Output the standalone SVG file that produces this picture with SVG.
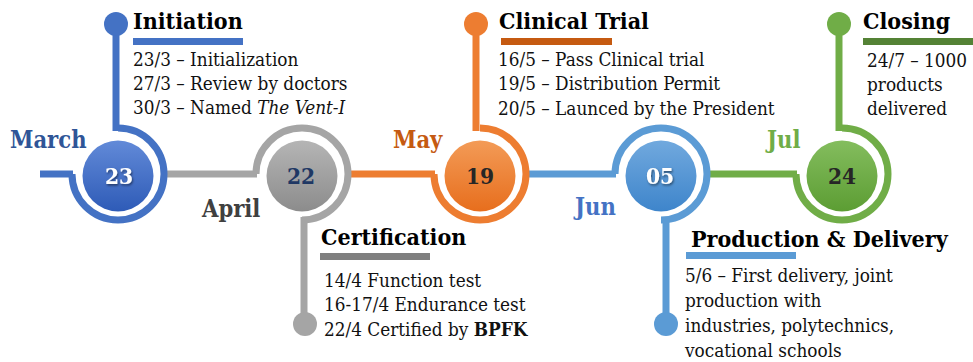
<svg xmlns="http://www.w3.org/2000/svg" width="973" height="362" viewBox="0 0 973 362" font-family="'DejaVu Serif Condensed', 'DejaVu Serif', serif">
<style>
text{font-stretch:condensed}
.ring{fill:none;stroke-width:7}
.line{fill:none;stroke-width:7}
.title{font-size:23px;font-weight:bold;fill:#000}
.body{font-size:18.8px;fill:#111}
.month{font-size:23.5px;font-weight:bold}
.num{font-size:22.5px;font-weight:bold;text-anchor:middle}
</style>
<defs>
<linearGradient id="gBlue" x1="0" y1="0" x2="0" y2="1"><stop offset="0" stop-color="#628ad8"/><stop offset="1" stop-color="#2e5bb7"/></linearGradient>
<linearGradient id="gGray" x1="0" y1="0" x2="0" y2="1"><stop offset="0" stop-color="#b5b5b5"/><stop offset="1" stop-color="#8c8c8c"/></linearGradient>
<linearGradient id="gOrange" x1="0" y1="0" x2="0" y2="1"><stop offset="0" stop-color="#f39b57"/><stop offset="1" stop-color="#e76e1d"/></linearGradient>
<linearGradient id="gLBlue" x1="0" y1="0" x2="0" y2="1"><stop offset="0" stop-color="#71a9de"/><stop offset="1" stop-color="#3e85cb"/></linearGradient>
<linearGradient id="gGreen" x1="0" y1="0" x2="0" y2="1"><stop offset="0" stop-color="#84bd5e"/><stop offset="1" stop-color="#5c9d33"/></linearGradient>
<filter id="shadow" x="-30%" y="-30%" width="160%" height="160%"><feDropShadow dx="1" dy="1.5" stdDeviation="1" flood-color="#000" flood-opacity="0.5"/></filter>
</defs>

<g id="connectors">
<path class="line" stroke="#4472C4" d="M40,174 H73"/>
<path class="line" stroke="#A5A5A5" d="M163,174 H257"/>
<path class="line" stroke="#ED7D31" d="M347,174 H435"/>
<path class="line" stroke="#5B9BD5" d="M525,174 H616"/>
<path class="line" stroke="#70AD47" d="M706,174 H797"/>
</g>

<g id="node-march">
<path class="ring" stroke="#4472C4" d="M72,174 A46,46 0 1 0 118,128"/>
<path class="line" stroke="#4472C4" d="M116,24 V131"/>
<circle cx="116" cy="24" r="12" fill="#4472C4"/>
<circle cx="118" cy="176" r="35.5" fill="url(#gBlue)"/>
<text class="num" x="119" y="184" fill="#fff" filter="url(#shadow)">23</text>
<text class="month" x="10" y="148" fill="#2F5597">March</text>
<text class="title" x="133" y="29">Initiation</text>
<rect x="133" y="38" width="110" height="7" fill="#4472C4"/>
<text class="body" x="133" y="66">23/3 – Initialization</text>
<text class="body" x="133" y="90">27/3 – Review by doctors</text>
<text class="body" x="133" y="114">30/3 – Named <tspan font-style="italic">The Vent-I</tspan></text>
</g>

<g id="node-april">
<path class="ring" stroke="#A5A5A5" d="M256,174 A46,46 0 1 1 302,220"/>
<path class="line" stroke="#A5A5A5" d="M304,217 V324"/>
<circle cx="305" cy="324" r="12" fill="#A5A5A5"/>
<circle cx="302" cy="176" r="35.5" fill="url(#gGray)"/>
<text class="num" x="301" y="184" fill="#1F3864">22</text>
<text class="month" x="202" y="217" fill="#404040">April</text>
<text class="title" x="321" y="245">Certification</text>
<rect x="320" y="253" width="110" height="7" fill="#7F7F7F"/>
<text class="body" x="324" y="287" fill="#404040">14/4 Function test</text>
<text class="body" x="324" y="311" fill="#404040">16-17/4 Endurance test</text>
<text class="body" x="324" y="336" fill="#404040">22/4 Certified by <tspan font-weight="bold">BPFK</tspan></text>
</g>

<g id="node-may">
<path class="ring" stroke="#ED7D31" d="M434,174 A46,46 0 1 0 480,128"/>
<path class="line" stroke="#ED7D31" d="M476,24 V131"/>
<circle cx="476" cy="24" r="12" fill="#ED7D31"/>
<circle cx="480" cy="176" r="35.5" fill="url(#gOrange)"/>
<text class="num" x="480" y="184" fill="#262626">19</text>
<text class="month" x="393" y="148" fill="#C55A11">May</text>
<text class="title" x="499" y="29">Clinical Trial</text>
<rect x="501" y="38" width="111" height="7" fill="#C55A11"/>
<text class="body" x="498" y="66">16/5 – Pass Clinical trial</text>
<text class="body" x="498" y="90">19/5 – Distribution Permit</text>
<text class="body" x="498" y="115">20/5 – Launced by the President</text>
</g>

<g id="node-jun">
<path class="ring" stroke="#5B9BD5" d="M615,174 A46,46 0 1 1 661,220"/>
<path class="line" stroke="#5B9BD5" d="M666,217 V324"/>
<circle cx="666" cy="324" r="12" fill="#5B9BD5"/>
<circle cx="661" cy="176" r="35.5" fill="url(#gLBlue)"/>
<text class="num" x="660" y="184" fill="#fff" filter="url(#shadow)">05</text>
<text class="month" x="575" y="215" fill="#4472C4">Jun</text>
<text class="title" x="691" y="247">Production &amp; Delivery</text>
<rect x="686" y="252" width="110" height="7" fill="#5B9BD5"/>
<text class="body" x="685" y="282">5/6 – First delivery, joint</text>
<text class="body" x="685" y="307">production with</text>
<text class="body" x="685" y="332">industries, polytechnics,</text>
<text class="body" x="685" y="357">vocational schools</text>
</g>

<g id="node-jul">
<path class="ring" stroke="#70AD47" d="M796,174 A46,46 0 1 0 842,128"/>
<path class="line" stroke="#70AD47" d="M839,24 V131"/>
<circle cx="839" cy="24" r="12" fill="#70AD47"/>
<circle cx="842" cy="176" r="35.5" fill="url(#gGreen)"/>
<text class="num" x="842" y="184" fill="#262626">24</text>
<text class="month" x="767" y="148" fill="#70AD47">Jul</text>
<text class="title" x="863" y="29">Closing</text>
<rect x="863" y="38" width="110" height="7" fill="#548235"/>
<text class="body" x="867" y="67">24/7 – 1000</text>
<text class="body" x="867" y="91">products</text>
<text class="body" x="867" y="115">delivered</text>
</g>
</svg>
